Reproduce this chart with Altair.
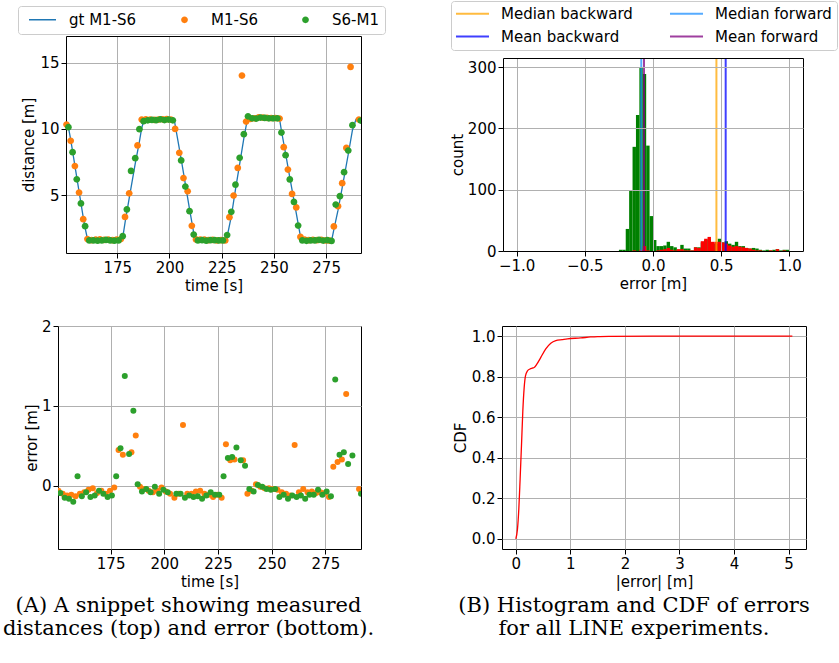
import altair as alt
import pandas as pd

FONT = "DejaVu Sans"
SERIF = "DejaVu Serif"

# ---------------- data ----------------
SERIES = ["gt M1-S6", "M1-S6", "S6-M1"]
SERIES_COLORS = ["#1f77b4", "#ff7f0e", "#2ca02c"]

# ground-truth distance (vertices of the line)
GT_T = [150.5, 151.5, 152.7, 158.7, 159.6, 160.6, 161.6,
        176.8, 177.6, 178.7, 180.7, 183.6, 185.6, 186.7, 187.6, 188.4,
        202.2, 205.6, 209.6, 211.6, 212.4,
        227.0, 227.6, 229.6, 231.6, 233.6, 235.6, 236.7, 237.6, 238.4,
        252.6, 253.6, 255.6, 257.6, 259.6, 261.6, 262.6, 263.5,
        277.8, 278.7, 280.7, 282.7, 285.6, 287.6, 289.3, 291.6]
GT_D = [10.42, 10.22, 9.2, 3.33, 2.55, 1.8, 1.72,
        1.72, 1.8, 2.92, 4.76, 7.39, 9.04, 10.07, 10.56, 10.75,
        10.75, 7.72, 3.95, 2.16, 1.72,
        1.72, 1.88, 3.4, 5.44, 7.34, 9.28, 10.23, 10.7, 10.85,
        10.85, 9.86, 8.13, 6.35, 4.62, 2.86, 2.0, 1.72,
        1.72, 2.41, 3.88, 5.58, 8.09, 9.9, 10.72, 10.72]

M1S6_T = [150.7, 152.7, 154.7, 156.7, 158.7, 160.7, 162.7, 164.7, 166.7, 168.7,
          170.7, 172.7, 174.7, 176.7, 178.7, 180.7, 182.7, 184.7, 186.7, 188.7,
          190.7, 192.7, 194.7, 196.7, 198.7, 200.7, 202.7, 204.7, 206.7, 208.7,
          210.7, 212.7, 214.7, 216.7, 218.7, 220.7, 222.7, 224.7, 226.7, 228.7,
          230.7, 232.7, 234.7, 236.7, 238.7, 240.7, 242.7, 244.7, 246.7, 248.7,
          250.7, 252.7, 254.7, 256.7, 258.7, 260.7, 262.7, 264.7, 266.7, 268.7,
          270.7, 272.7, 274.7, 276.7, 278.7, 280.7, 282.7, 284.7, 286.7, 288.7,
          290.7]
M1S6_D = [10.33, 9.1, 7.2, 5.2, 3.2, 1.7, 1.62, 1.65, 1.67, 1.63,
          1.65, 1.62, 1.66, 1.7, 3.37, 5.15, None, 8.75, 10.7, 10.72,
          10.7, 10.68, 10.7, 10.72, 10.73, 10.7, 10.0, 8.2, 6.3, 5.3,
          2.7, 1.67, 1.65, 1.66, 1.62, 1.63, 1.6, 1.62, 1.6, 3.35,
          4.98, 7.06, 14.02, 10.55, 10.75, 10.8, 10.87, 10.85, 10.83, 10.82,
          10.82, 10.78, 8.62, 6.94, 5.1, 4.08, 1.86, 1.65, 1.62, 1.64,
          1.62, 1.63, 1.6, 1.58, 2.65, 4.18, 5.91, 8.57, 14.67, None,
          10.7]
M1S6_ERR = [-0.06, -0.1, -0.12, -0.11, -0.13, -0.1, -0.08, -0.05, -0.03, -0.09,
            -0.06, -0.1, -0.06, -0.02, 0.45, 0.39, None, 0.42, 0.63, -0.01,
            -0.04, -0.06, -0.08, -0.06, -0.02, -0.07, -0.1, -0.15, -0.1, 0.76,
            -0.1, -0.1, -0.07, -0.06, -0.1, -0.11, -0.14, -0.11, -0.15, 0.52,
            0.32, 0.33, 5.7, 0.32, -0.1, -0.06, 0.02, -0.01, -0.03, -0.03,
            -0.04, -0.05, -0.08, -0.1, -0.12, 0.51, -0.08, -0.04, -0.08, -0.07,
            -0.09, -0.08, -0.09, -0.14, 0.24, 0.3, 0.33, 1.15, 7.0, None,
            -0.04]

S6M1_T = [151.6, 153.6, 155.6, 157.6, 159.6, 161.6, 163.6, 165.6, 167.6, 169.6,
          171.6, 173.6, 175.6, 177.6, 179.6, 181.6, 183.6, 185.6, 187.6, 189.6,
          191.6, 193.6, 195.6, 197.6, 199.6, 201.6, 203.6, 205.6, 207.6, 209.6,
          211.6, 213.6, 215.6, 217.6, 219.6, 221.6, 223.6, 225.6, 227.6, 229.6,
          231.6, 233.6, 235.6, 237.6, 239.6, 241.6, 243.6, 245.6, 247.6, 249.6,
          251.6, 253.6, 255.6, 257.6, 259.6, 261.6, 263.6, 265.6, 267.6, 269.6,
          271.6, 273.6, 275.6, 277.6, 279.6, 281.6, 283.6, 285.6, 287.6, 289.6,
          291.6]
S6M1_D = [10.13, 8.25, 6.2, 4.38, 2.67, 1.6, 1.6, 1.58, 1.6, 1.63,
          1.6, 1.58, 1.6, 1.92, 3.93, 6.83, 7.79, 9.98, 10.58, 10.65,
          10.68, 10.66, 10.72, 10.67, 10.7, 10.65, None, 7.62, 5.66, 3.8,
          2.04, 1.6, 1.62, 1.58, 1.62, 1.62, 1.6, 1.6, 2.0, 3.75,
          5.8, 7.82, 9.6, 10.95, 10.8, 10.78, 10.85, 10.83, 10.8, 10.8,
          10.8, 9.72, 8.02, 6.19, 4.5, 2.72, 1.6, 1.57, 1.6, 1.6,
          1.64, 1.59, 1.62, 1.56, 4.3, 4.93, 6.74, 8.37, 10.28, None,
          10.63]
S6M1_ERR = [-0.09, -0.15, -0.16, -0.2, 0.12, -0.13, -0.08, -0.14, -0.12, -0.06,
            -0.1, -0.14, -0.12, 0.12, 0.47, 1.375, 0.4, 0.94, 0.02, -0.07,
            -0.04, -0.08, -0.01, -0.1, -0.05, -0.08, None, -0.1, -0.1, -0.15,
            -0.12, -0.14, -0.13, -0.16, -0.12, -0.08, -0.11, -0.11, 0.12, 0.35,
            0.36, 0.48, 0.32, 0.25, -0.04, -0.07, 0.01, -0.01, -0.04, -0.05,
            -0.04, -0.14, -0.11, -0.16, -0.12, -0.14, -0.12, -0.16, -0.11, -0.11,
            -0.05, -0.11, -0.07, -0.13, 1.33, 0.39, 0.42, 0.275, 0.38, None,
            -0.1]

# histogram of errors (bins of 0.025 m starting at -0.25 m)
HIST_START = -0.25
HIST_WIDTH = 0.025
HIST_FWD = [2, 2, 36, 99, 170, 222, 300, 289, 172, 57,
            18, 8, 8, 9, 15, 8, 6, 2, 10, 4,
            4, 1, 6, 6, 14, 18, 20, 12, 12, 20,
            14, 16, 12, 10, 15, 8, 8, 5, 4, 5,
            4, 2, 1, 2, 1, 2, 3, 1, 2, 2]
HIST_BWD = [0, 0, 0, 0, 1, 0, 2, 8, 1, 0,
            0, 1, 2, 3, 5, 2, 1, 3, 3, 1,
            1, 1, 6, 5, 16, 20, 23, 15, 15, 15,
            14, 12, 9, 7, 8, 7, 6, 5, 4, 2,
            1, 1, 0, 0, 1, 0, 3, 0, 1, 0]

# legend order (filled column by column): Median backward, Mean backward | Median forward, Mean forward
STAT_NAMES = ["Median backward", "Mean backward", "Median forward", "Mean forward"]
STAT_VALUES = [0.465, 0.533, -0.086, -0.066]
STAT_COLORS = ["#ffa500", "#0000ff", "#1e90ff", "#800080"]

CDF_X = [0.0, 0.03, 0.055, 0.079, 0.104, 0.128, 0.153, 0.177, 0.214, 0.26,
         0.3, 0.336, 0.385, 0.458, 0.549, 0.641, 0.733, 0.85, 0.946, 1.19,
         1.37, 1.5, 1.74, 2.5, 5.07]
CDF_Y = [0.0, 0.048, 0.148, 0.297, 0.463, 0.629, 0.746, 0.804, 0.829, 0.838,
         0.842, 0.845, 0.862, 0.895, 0.937, 0.965, 0.978, 0.983, 0.987, 0.991,
         0.996, 0.998, 0.999, 1.0, 1.0]

CAPTION_A = ["(A) A snippet showing measured", "distances (top) and error (bottom)."]
CAPTION_B = ["(B) Histogram and CDF of errors", "for all LINE experiments."]

# ---------------- tables ----------------
gt_df = pd.DataFrame({"t": GT_T, "d": GT_D})

dist_rows, err_rows = [], []
for name, ts, ds, es in [("M1-S6", M1S6_T, M1S6_D, M1S6_ERR),
                         ("S6-M1", S6M1_T, S6M1_D, S6M1_ERR)]:
    for t, d, e in zip(ts, ds, es):
        if d is not None:
            dist_rows.append({"series": name, "t": t, "d": d})
        if e is not None:
            err_rows.append({"series": name, "t": t, "e": e})
dist_df = pd.DataFrame(dist_rows)
err_df = pd.DataFrame(err_rows)

hist_fwd_rows, hist_bwd_rows = [], []
for i, (g, r) in enumerate(zip(HIST_FWD, HIST_BWD)):
    b0 = HIST_START + i * HIST_WIDTH
    if g > 0:
        hist_fwd_rows.append({"b0": b0, "b1": b0 + HIST_WIDTH, "n": g})
    if r > 0:
        hist_bwd_rows.append({"b0": b0, "b1": b0 + HIST_WIDTH, "n": r})
hist_fwd_df = pd.DataFrame(hist_fwd_rows)
hist_bwd_df = pd.DataFrame(hist_bwd_rows)
stat_df = pd.DataFrame({"name": STAT_NAMES, "v": STAT_VALUES})
cdf_df = pd.DataFrame({"x": CDF_X, "y": CDF_Y})


# ---------------- helpers ----------------
def axis(**kw):
    base = dict(labelFont=FONT, labelFontSize=15, labelColor="black",
                titleFont=FONT, titleFontSize=15, titleFontWeight="normal",
                titleColor="black", tickColor="black", tickSize=5, tickWidth=1,
                labelPadding=2, domain=False, domainColor="black", domainWidth=1,
                grid=True, gridColor="#b0b0b0", gridWidth=1,
                labelFlush=False, labelOverlap=False)
    base.update(kw)
    return alt.Axis(**base)


def frame_axis(orient, offset=0, grid=False, values=None):
    kw = dict(orient=orient, offset=offset, domain=True, domainColor="black",
              domainWidth=1, ticks=False, labels=False, grid=grid, title=None)
    if grid:
        kw.update(gridColor="#b0b0b0", gridWidth=1, values=values, zindex=1)
    return alt.Axis(**kw)


# glyphs: drawn at symbol size 225 (unit = 7.5 px)
LINE_GLYPH = "M-1.8,-0.1L1.8,-0.1L1.8,0.1L-1.8,0.1Z"
DOT_GLYPH = "M0.45,0A0.45,0.45,0,1,1,-0.45,0A0.45,0.45,0,1,1,0.45,0Z"

color_scale = alt.Scale(domain=SERIES, range=SERIES_COLORS)
shape_scale = alt.Scale(domain=SERIES, range=[LINE_GLYPH, DOT_GLYPH, DOT_GLYPH])

legend_tl = alt.Legend(title=None, orient="none", legendX=-40, legendY=-30,
                       direction="horizontal", columns=3, columnPadding=29,
                       labelFont=FONT, labelFontSize=15, labelColor="black",
                       labelOffset=19, symbolOffset=11, padding=6,
                       strokeColor="#cccccc", fillColor="white", cornerRadius=3,
                       symbolSize=225, symbolStrokeWidth=0)

legend_tr = alt.Legend(title=None, orient="none", legendX=-52, legendY=-35,
                       columns=2, columnPadding=32, rowPadding=7,
                       labelFont=FONT, labelFontSize=15, labelColor="black",
                       labelOffset=21, symbolOffset=9, padding=5,
                       symbolType="M-2.54,0L2.54,0", symbolSize=169, symbolStrokeWidth=2,
                       strokeColor="#cccccc", fillColor="white", cornerRadius=3)

# ---------------- top left: distances ----------------
x_tl_scale = alt.Scale(domain=[150.45, 291.7], range=[8, 303], nice=False, zero=False)
y_tl_scale = alt.Scale(domain=[0.65, 17.0], nice=False, zero=False)

gt_line = alt.Chart(gt_df).mark_line(color="#1f77b4", strokeWidth=1.3, clip=True).encode(
    x=alt.X("t:Q", scale=x_tl_scale,
            axis=axis(title="time [s]", values=[175, 200, 225, 250, 275],
                      titlePadding=3, domain=True)),
    y=alt.Y("d:Q", scale=y_tl_scale,
            axis=axis(title="distance [m]", values=[5, 10, 15], titlePadding=3,
                      offset=-8, domain=True)),
)
dist_pts = alt.Chart(dist_df).mark_point(filled=True, opacity=1, size=225,
                                         strokeWidth=0, clip=True).encode(
    x=alt.X("t:Q", scale=x_tl_scale, axis=frame_axis("top")),
    y=alt.Y("d:Q", scale=y_tl_scale, axis=frame_axis("right")),
    color=alt.Color("series:N", scale=color_scale, legend=legend_tl),
    shape=alt.Shape("series:N", scale=shape_scale, legend=legend_tl),
)
TL = alt.layer(gt_line, dist_pts).resolve_axis(x="independent", y="independent").properties(
    width=303, height=217, view=alt.ViewBackground(stroke=None))

# ---------------- bottom left: errors ----------------
BL = alt.Chart(err_df).mark_circle(size=36, opacity=1, clip=True).encode(
    x=alt.X("t:Q", scale=alt.Scale(domain=[150.5, 291.6], nice=False, zero=False),
            axis=axis(title="time [s]", values=[175, 200, 225, 250, 275], titlePadding=3)),
    y=alt.Y("e:Q", scale=alt.Scale(domain=[-0.79, 2.0], nice=False, zero=False),
            axis=axis(title="error [m]", values=[0, 1, 2], titlePadding=2)),
    color=alt.Color("series:N", scale=color_scale, legend=None),
).properties(
    width=303, height=223,
    title=alt.TitleParams(CAPTION_A, orient="bottom", anchor="middle", frame="group",
                          align="center", font=SERIF, fontSize=21, fontWeight="normal",
                          color="black", lineHeight=23, offset=6, dx=-21),
)

# ---------------- top right: histogram ----------------
x_tr_scale = alt.Scale(domain=[-1.1, 1.1], nice=False, zero=False)
y_tr_scale = alt.Scale(domain=[0, 315], range=[215, 22], nice=False, zero=False)
TR_XTICKS = [-1.0, -0.5, 0.0, 0.5, 1.0]

bars_fwd = alt.Chart(hist_fwd_df).mark_bar(color="green", strokeWidth=0).encode(
    x=alt.X("b0:Q", scale=x_tr_scale,
            axis=axis(title="error [m]", values=TR_XTICKS, format=".1f",
                      titlePadding=3, zindex=1, domain=True, grid=False)),
    x2="b1:Q",
    y=alt.Y("n:Q", scale=y_tr_scale,
            axis=axis(title="count", values=[0, 100, 200, 300], titlePadding=2,
                      zindex=1, domain=True)),
    y2=alt.datum(0),
)
bars_bwd = alt.Chart(hist_bwd_df).mark_bar(color="red", strokeWidth=0).encode(
    x=alt.X("b0:Q", scale=x_tr_scale,
            axis=frame_axis("top", -22, grid=True, values=TR_XTICKS)),
    x2="b1:Q",
    y=alt.Y("n:Q", scale=y_tr_scale, axis=frame_axis("right")),
    y2=alt.datum(0),
)
stat_rules = alt.Chart(stat_df).mark_rule(strokeWidth=2, opacity=0.75).encode(
    x=alt.X("v:Q", scale=x_tr_scale, axis=None),
    y=alt.YDatum(0, scale=y_tr_scale, axis=None),
    y2=alt.datum(315),
    color=alt.Color("name:N", scale=alt.Scale(domain=STAT_NAMES, range=STAT_COLORS),
                    legend=legend_tr),
)
TR = alt.layer(bars_fwd, bars_bwd, stat_rules).resolve_axis(
    x="independent", y="independent").properties(
    width=300, height=215, view=alt.ViewBackground(stroke=None))

# ---------------- bottom right: CDF ----------------
BR = alt.Chart(cdf_df).mark_line(color="red", strokeWidth=1.3, interpolate="monotone").encode(
    x=alt.X("x:Q", scale=alt.Scale(domain=[-0.2535, 5.32], nice=False, zero=False),
            axis=axis(title="|error| [m]", values=[0, 1, 2, 3, 4, 5], titlePadding=3)),
    y=alt.Y("y:Q", scale=alt.Scale(domain=[-0.05, 1.05], nice=False, zero=False),
            axis=axis(title="CDF", values=[0.0, 0.2, 0.4, 0.6, 0.8, 1.0],
                      format=".1f", titlePadding=3)),
).properties(
    width=304, height=223,
    title=alt.TitleParams(CAPTION_B, orient="bottom", anchor="middle", frame="group",
                          align="center", font=SERIF, fontSize=21, fontWeight="normal",
                          color="black", lineHeight=23, offset=6, dx=-20),
)

row1 = alt.hconcat(TL, TR, spacing=64).resolve_scale(color="independent", shape="independent")
row2 = alt.hconcat(BL, BR, spacing=77).resolve_scale(color="independent", shape="independent")

chart = alt.vconcat(row1, row2, spacing=25,
                    padding={"left": 2, "top": 0, "right": 0, "bottom": 0},
                    background="white").resolve_scale(
    color="independent", shape="independent"
).configure(font=FONT).configure_view(stroke="black", strokeWidth=1)

chart.save("out.html", embed_options={"renderer": "svg", "actions": False})
